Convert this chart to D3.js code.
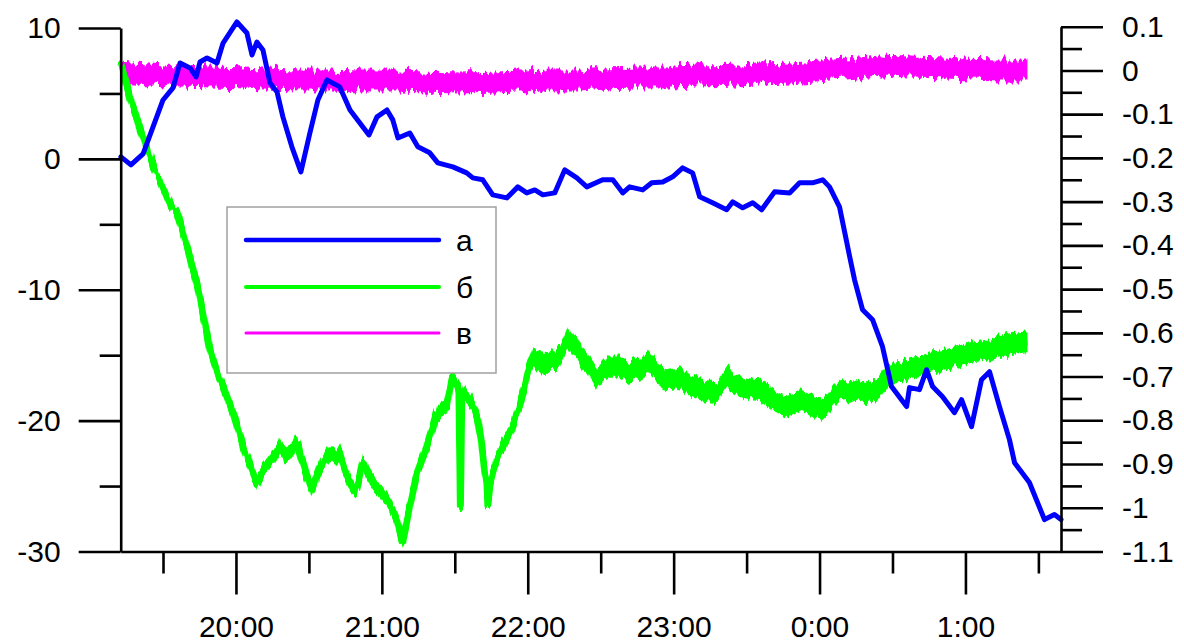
<!DOCTYPE html>
<html><head><meta charset="utf-8">
<script src="https://cdn.jsdelivr.net/npm/d3@7"></script>
<style>
body{margin:0;background:#fff}
svg{display:block}
</style>
</head><body>
<svg id="chart" width="1184" height="644"></svg>
<script>
// ---- data (time = minutes after 19:00) ----
const hourTicks = [60, 120, 180, 240, 300, 360];
const hourLabels = ["20:00", "21:00", "22:00", "23:00", "0:00", "1:00"];
const halfHourTicks = [30, 90, 150, 210, 270, 330, 390];
const leftTicks = [-30, -20, -10, 0, 10];
const leftLabels = ["-30", "-20", "-10", "0", "10"];
const leftMinor = [-25, -15, -5, 5];
const rightTicks = [0.1, 0, -0.1, -0.2, -0.3, -0.4, -0.5, -0.6, -0.7, -0.8, -0.9, -1, -1.1];
const rightLabels = ["0.1", "0", "-0.1", "-0.2", "-0.3", "-0.4", "-0.5", "-0.6", "-0.7", "-0.8", "-0.9", "-1", "-1.1"];
const rightMinor = [0.05, -0.05, -0.15, -0.25, -0.35, -0.45, -0.55, -0.65, -0.75, -0.85, -0.95, -1.05];
const legendLabels = ["а", "б", "в"];

// series а : [time, value] (left axis)
const seriesA = [[12.7,0.15],[16.8,-0.46],[21.8,0.38],[25.9,2.44],[30.0,4.5],[34.1,5.42],[37.0,7.33],[41.1,6.95],[43.6,6.26],[45.2,7.40],[48.1,7.71],[52.2,7.33],[54.7,8.85],[60.4,10.46],[64.5,9.62],[66.6,7.94],[68.6,8.93],[71.1,8.32],[74.0,5.80],[76.9,5.11],[79.3,3.21],[83.0,0.92],[86.7,-0.99],[90.4,1.98],[93.7,4.50],[97.4,6.03],[102.7,5.50],[106.9,3.74],[112.2,2.44],[114.7,1.83],[118.0,3.21],[122.1,3.74],[124.5,2.98],[126.6,1.60],[131.5,1.98],[134.8,0.92],[139.7,0.46],[143.0,-0.31],[149.2,-0.61],[154.9,-1.07],[157.4,-1.45],[161.5,-1.60],[165.6,-2.75],[171.4,-2.98],[175.9,-2.14],[179.6,-2.60],[182.9,-2.37],[186.2,-2.75],[191.1,-2.60],[195.2,-0.84],[200.2,-1.45],[204.3,-2.14],[210.8,-1.60],[215.0,-1.60],[219.1,-2.60],[221.9,-2.14],[227.3,-2.37],[231.0,-1.83],[235.5,-1.76],[239.6,-1.37],[243.7,-0.69],[247.8,-1.07],[250.7,-2.90],[256.0,-3.36],[261.8,-3.89],[264.3,-3.28],[268.4,-3.74],[272.5,-3.36],[276.2,-3.89],[281.5,-2.52],[287.7,-2.60],[291.8,-1.83],[297.1,-1.83],[301.3,-1.60],[304.1,-2.14],[308.2,-3.66],[312.4,-7.48],[314.4,-9.24],[317.7,-11.53],[321.8,-12.29],[325.9,-14.35],[329.6,-17.40],[335.8,-18.93],[337.0,-17.48],[341.1,-17.63],[344.0,-16.11],[346.5,-17.40],[350.6,-18.17],[355.5,-19.39],[358.4,-18.40],[362.5,-20.46],[366.6,-16.87],[369.9,-16.26],[374.0,-18.93],[378.1,-21.45],[380.2,-23.21],[386.3,-24.73],[392.5,-27.56],[396.6,-27.18],[399.3,-27.56]];

// series б : [time, value, noise half-width] (left axis)
const seriesB = [[12.7,7.40,0.35],[16.4,4.73,0.35],[21.8,1.68,0.35],[25.9,-0.46,0.35],[30.0,-2.14,0.35],[32.9,-3.51,0.35],[35.8,-4.12,0.35],[38.2,-5.65,0.35],[41.1,-7.56,0.35],[44.0,-9.47,0.35],[46.8,-12.14,0.35],[49.3,-14.58,0.4],[52.2,-16.26,0.4],[54.7,-17.40,0.4],[58.8,-19.39,0.4],[62.9,-21.98,0.45],[65.8,-23.36,0.5],[68.6,-24.73,0.5],[70.7,-23.89,0.55],[72.7,-23.51,0.55],[75.6,-22.82,0.6],[78.1,-21.98,0.6],[80.1,-22.60,0.6],[82.2,-22.44,0.6],[85.1,-21.68,0.6],[87.1,-22.98,0.6],[89.2,-24.27,0.6],[91.2,-25.27,0.6],[92.9,-24.35,0.6],[94.5,-23.51,0.6],[96.6,-22.98,0.6],[98.6,-22.44,0.6],[100.7,-22.82,0.6],[102.7,-22.44,0.6],[104.8,-23.74,0.6],[106.9,-24.73,0.6],[109.7,-25.27,0.6],[112.2,-23.21,0.6],[114.3,-24.12,0.6],[116.3,-24.73,0.6],[119.2,-25.27,0.6],[122.1,-26.03,0.6],[124.1,-26.64,0.6],[126.2,-27.56,0.6],[127.4,-28.47,0.55],[128.6,-29.31,0.5],[129.9,-28.17,0.5],[131.5,-26.56,0.55],[134.4,-23.97,0.6],[136.4,-22.98,0.6],[138.5,-21.98,0.6],[140.6,-20.69,0.6],[142.6,-19.39,0.6],[144.7,-19.16,0.6],[146.7,-18.93,0.6],[148.8,-16.64,0.6],[150.4,-17.25,0.6],[151.7,-17.63,0.6],[152.3,-26.56,0.1],[152.9,-17.79,0.6],[154.1,-18.02,0.6],[156.2,-18.40,0.6],[158.2,-19.16,0.6],[159.5,-19.92,0.6],[161.1,-21.83,0.6],[162.3,-23.97,0.6],[163.2,-25.04,0.6],[163.6,-26.41,0.2],[164.4,-24.89,0.6],[166.0,-23.74,0.6],[167.3,-22.98,0.6],[169.7,-21.98,0.6],[172.6,-20.92,0.6],[174.7,-19.92,0.6],[176.7,-18.93,0.6],[178.4,-17.63,0.7],[180.0,-16.34,0.75],[182.1,-15.19,0.8],[185.0,-15.50,0.8],[189.1,-15.57,0.8],[191.1,-15.34,0.8],[193.2,-15.11,0.8],[195.2,-14.20,0.8],[196.5,-13.59,0.8],[198.5,-14.20,0.8],[200.2,-14.35,0.8],[202.2,-15.19,0.8],[204.3,-15.57,0.8],[206.3,-16.26,0.8],[208.4,-16.87,0.8],[210.8,-16.26,0.8],[213.7,-15.88,0.85],[217.8,-15.88,0.85],[220.7,-16.26,0.8],[223.2,-16.11,0.85],[226.9,-15.95,0.8],[230.2,-15.57,0.85],[233.0,-16.11,0.8],[235.1,-16.72,0.8],[237.1,-16.87,0.8],[240.4,-16.72,0.8],[243.7,-16.87,0.8],[246.6,-17.33,0.8],[250.7,-17.63,0.8],[254.0,-17.79,0.8],[257.7,-17.86,0.8],[259.7,-17.25,0.8],[261.8,-16.64,0.8],[264.3,-17.02,0.8],[267.1,-17.40,0.8],[271.3,-17.56,0.8],[275.4,-17.63,0.8],[278.2,-18.02,0.8],[280.7,-18.40,0.8],[283.6,-18.70,0.8],[286.5,-18.93,0.8],[289.8,-18.63,0.8],[291.8,-18.40,0.8],[295.1,-18.63,0.8],[298.0,-19.01,0.85],[300.8,-19.16,0.85],[303.3,-18.78,0.8],[306.2,-18.02,0.8],[309.5,-17.48,0.8],[312.4,-17.86,0.8],[315.2,-17.63,0.8],[319.3,-17.86,0.8],[321.8,-17.79,0.8],[324.7,-17.48,0.8],[327.6,-16.72,0.8],[330.0,-16.26,0.8],[332.9,-16.26,0.8],[337.0,-16.03,0.8],[341.1,-15.88,0.8],[346.5,-15.50,0.8],[350.2,-15.42,0.8],[353.5,-15.27,0.8],[357.6,-15.04,0.8],[360.4,-14.89,0.8],[363.7,-14.73,0.8],[367.0,-14.66,0.8],[370.7,-14.58,0.8],[374.0,-14.35,0.8],[378.1,-14.12,0.8],[382.2,-14.05,0.8],[385.5,-13.97,0.8]];

// series в : [time, value, noise half-width] (right axis)
const seriesV = [[12.7,-0.004,0.024],[24.7,-0.008,0.024],[37.0,-0.013,0.024],[49.3,-0.015,0.024],[61.6,-0.017,0.024],[74.0,-0.020,0.024],[86.3,-0.022,0.024],[98.6,-0.022,0.024],[111.0,-0.024,0.024],[127.4,-0.024,0.024],[139.7,-0.027,0.024],[152.1,-0.029,0.024],[164.4,-0.027,0.024],[176.7,-0.024,0.024],[189.1,-0.022,0.024],[201.4,-0.022,0.024],[213.7,-0.017,0.024],[226.0,-0.015,0.024],[238.4,-0.015,0.024],[250.7,-0.013,0.024],[263.0,-0.011,0.024],[275.4,-0.008,0.024],[287.7,-0.006,0.024],[300.0,-0.001,0.024],[312.4,0.004,0.024],[324.7,0.010,0.024],[337.0,0.008,0.024],[349.3,0.006,0.024],[361.7,0.003,0.024],[374.0,0.001,0.024],[385.5,0.001,0.024]];

// ---- chart ----
const FONT = '"Liberation Sans", Arial, sans-serif';
const FS = 30;
const svg = d3.select("#chart");
const x = d3.scaleLinear().domain([12.6, 399.3]).range([120.7, 1061]);
const yL = d3.scaleLinear().domain([-30, 10]).range([551.5, 28]);
const yR = d3.scaleLinear().domain([-1.1, 0.1]).range([551.5, 26.7]);

const colors = ["#0000ff", "#00ff00", "#ff00ff"];

// rendering texture for the noisy records (vertical jitter of the drawn trace)
const defs = svg.append("defs");
function jitterFilter(id, freq, scale, seed) {
  const f = defs.append("filter").attr("id", id)
    .attr("x", "-3%").attr("y", "-15%").attr("width", "106%").attr("height", "130%")
    .attr("color-interpolation-filters", "sRGB");
  f.append("feTurbulence").attr("type", "fractalNoise").attr("baseFrequency", freq)
    .attr("numOctaves", 2).attr("seed", seed).attr("result", "n");
  f.append("feColorMatrix").attr("in", "n").attr("type", "matrix")
    .attr("values", "0 0 0 0 0.5  0 1 0 0 0  0 0 0 0 0  0 0 0 0 1").attr("result", "m");
  f.append("feDisplacementMap").attr("in", "SourceGraphic").attr("in2", "m")
    .attr("scale", scale).attr("xChannelSelector", "R").attr("yChannelSelector", "G");
}
jitterFilter("jitV", "0.28 0.02", 16, 4);
jitterFilter("jitB", "0.28 0.02", 13, 7);

// series в (magenta)
svg.append("g").attr("filter", "url(#jitV)")
  .append("path").datum(seriesV)
  .attr("fill", colors[2])
  .attr("d", d3.area().x(d => x(d[0])).y0(d => yR(d[1] - d[2])).y1(d => yR(d[1] + d[2])));
// series б (green)
const gB = svg.append("g").attr("filter", "url(#jitB)");
gB.append("path").datum(seriesB)
  .attr("fill", colors[1])
  .attr("d", d3.area().x(d => x(d[0])).y0(d => yL(d[1] - d[2])).y1(d => yL(d[1] + d[2])));
gB.append("path").datum(seriesB)
  .attr("fill", "none").attr("stroke", colors[1]).attr("stroke-width", 7)
  .attr("stroke-linejoin", "round")
  .attr("d", d3.line().x(d => x(d[0])).y(d => yL(d[1])));
// series а (blue)
svg.append("path").datum(seriesA)
  .attr("fill", "none").attr("stroke", colors[0]).attr("stroke-width", 5)
  .attr("stroke-linejoin", "round").attr("stroke-linecap", "round")
  .attr("d", d3.line().x(d => x(d[0])).y(d => yL(d[1])));

function styleAxis(g) {
  g.attr("font-family", FONT).attr("font-size", FS);
  g.selectAll("path,line").attr("stroke", "#000").attr("stroke-width", 2.6);
  g.selectAll("text").attr("fill", "#000");
}

// left axis
svg.append("g").attr("transform", "translate(120.7,0)")
  .call(d3.axisLeft(yL).tickValues(leftTicks).tickSize(42).tickSizeOuter(0).tickPadding(18)
    .tickFormat((d, i) => leftLabels[i]))
  .call(styleAxis);
svg.append("g").attr("transform", "translate(120.7,0)")
  .call(d3.axisLeft(yL).tickValues(leftMinor).tickSize(21).tickFormat(""))
  .call(g => g.select(".domain").remove()).call(styleAxis);

// right axis
svg.append("g").attr("transform", "translate(1061,0)")
  .call(d3.axisRight(yR).tickValues(rightTicks).tickSize(42).tickSizeOuter(0).tickPadding(19)
    .tickFormat((d, i) => rightLabels[i]))
  .call(styleAxis);
svg.append("g").attr("transform", "translate(1061,0)")
  .call(d3.axisRight(yR).tickValues(rightMinor).tickSize(21).tickFormat(""))
  .call(g => g.select(".domain").remove()).call(styleAxis);

// bottom axis
svg.append("g").attr("transform", "translate(0,551.5)")
  .call(d3.axisBottom(x).tickValues(hourTicks).tickSize(43).tickSizeOuter(0).tickPadding(21)
    .tickFormat((d, i) => hourLabels[i]))
  .call(styleAxis);
svg.append("g").attr("transform", "translate(0,551.5)")
  .call(d3.axisBottom(x).tickValues(halfHourTicks).tickSize(22).tickFormat(""))
  .call(g => g.select(".domain").remove()).call(styleAxis);

// legend
const lg = svg.append("g");
lg.append("rect").attr("x", 227).attr("y", 207).attr("width", 269).attr("height", 166)
  .attr("fill", "#fff").attr("stroke", "#a0a0a0").attr("stroke-width", 1.5);
const legendY = [240, 287, 333];
const legendW = [4.5, 4, 3];
legendLabels.forEach((lab, i) => {
  lg.append("line").attr("x1", 246).attr("x2", 439).attr("y1", legendY[i]).attr("y2", legendY[i])
    .attr("stroke", colors[i]).attr("stroke-width", legendW[i]).attr("stroke-linecap", "round");
  lg.append("text").attr("x", 456).attr("y", legendY[i]).attr("dy", "0.36em")
    .attr("font-family", FONT).attr("font-size", FS).attr("fill", "#000").text(lab);
});
</script>
</body></html>
